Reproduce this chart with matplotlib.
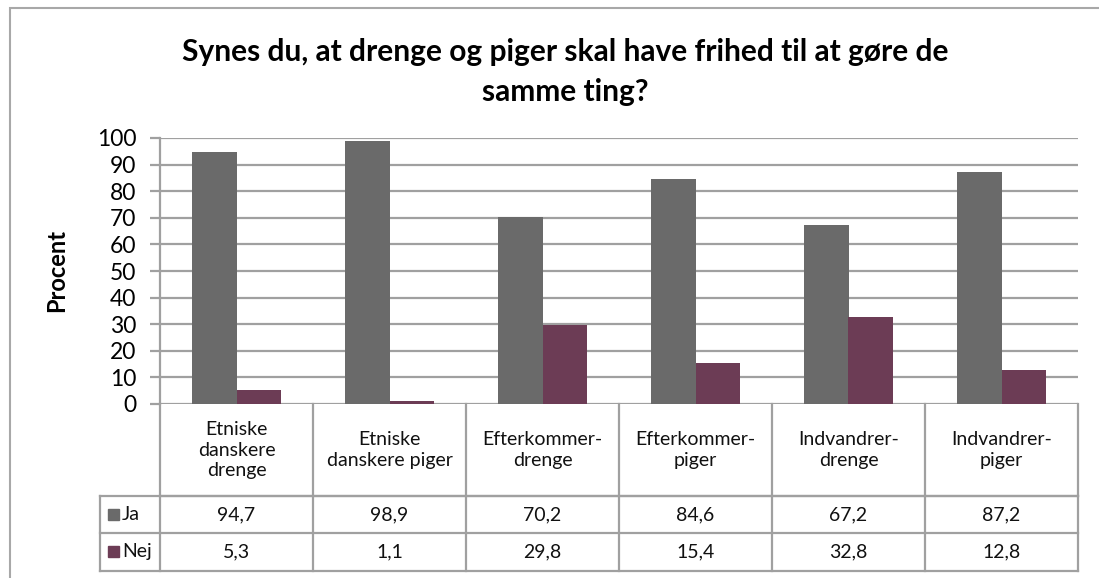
import matplotlib
matplotlib.use("Agg")
import matplotlib.pyplot as plt
import matplotlib.transforms as mtrans
from matplotlib.patches import Rectangle
import numpy as np

plt.rcParams['font.family'] = ['Lato', 'DejaVu Sans']

categories = ["Etniske\ndanskere\ndrenge", "Etniske\ndanskere piger", "Efterkommer-\ndrenge",
              "Efterkommer-\npiger", "Indvandrer-\ndrenge", "Indvandrer-\npiger"]
ja = [94.7, 98.9, 70.2, 84.6, 67.2, 87.2]
nej = [5.3, 1.1, 29.8, 15.4, 32.8, 12.8]
series_names = ["Ja", "Nej"]
colors = ["#6a6a6a", "#6c3c55"]
grid_col = "#a0a0a0"

W, H = 1099, 578
fig = plt.figure(figsize=(W / 100, H / 100), dpi=100)

# outer chart frame (runs off right/bottom)
fig.patches.append(Rectangle((10 / W, -0.1), 1.2, 1 - 8 / H + 0.1, transform=fig.transFigure,
                             fill=False, edgecolor="#a8a8a8", lw=1.5))

x0, x1, ytop, ybot = 160, 1078, 138, 404
ax = fig.add_axes([x0 / W, 1 - ybot / H, (x1 - x0) / W, (ybot - ytop) / H])

x = np.arange(len(categories))
bw = 0.29
ax.bar(x - bw / 2, ja, bw, color=colors[0], zorder=3)
ax.bar(x + bw / 2, nej, bw, color=colors[1], zorder=3)

ax.set_xlim(-0.5, len(categories) - 0.5)
ax.set_ylim(0, 100)
ax.set_yticks(range(0, 101, 10))
ax.set_xticks([])
ax.yaxis.grid(True, color=grid_col, lw=1.6, zorder=0)
for s in ["top", "right", "bottom"]:
    ax.spines[s].set_visible(False)
ax.spines["left"].set_color(grid_col)
ax.spines["left"].set_linewidth(1.6)
ax.tick_params(axis="y", length=7, width=1.6, color=grid_col, labelsize=16.5, pad=10)
ax.set_ylabel("Procent", fontsize=17, fontweight="bold")
ax.yaxis.set_label_coords(-(x0 - 68) / (x1 - x0), 0.5)

# data table below the axis
tr = mtrans.blended_transform_factory(ax.transData, ax.transAxes)
ppx = (x1 - x0) / len(categories)
leg_left = -0.5 - 60 / ppx
ah = ybot - ytop
r1 = -(496 - ybot) / ah
r2 = -(533 - ybot) / ah
r3 = -(571 - ybot) / ah
lk = dict(color=grid_col, lw=1.6, transform=tr, clip_on=False, solid_capstyle="projecting")

for b in np.arange(len(categories) + 1) - 0.5:
    ax.plot([b, b], [0, r3], **lk)
ax.plot([leg_left, leg_left], [r1, r3], **lk)
ax.plot([-0.5, len(categories) - 0.5], [r1, r1], **lk)
for ry in (r1, r2, r3):
    ax.plot([leg_left, len(categories) - 0.5], [ry, ry], **lk)

fs = 14
for i, c in enumerate(categories):
    ax.text(x[i], (0 + r1) / 2, c, transform=tr, ha="center", va="center",
            fontsize=fs, linespacing=1.25, color="#111111")
    ax.text(x[i], (r1 + r2) / 2, f"{ja[i]:.1f}".replace(".", ","), transform=tr,
            ha="center", va="center", fontsize=fs, color="#111111")
    ax.text(x[i], (r2 + r3) / 2, f"{nej[i]:.1f}".replace(".", ","), transform=tr,
            ha="center", va="center", fontsize=fs, color="#111111")

for k, (ry_a, ry_b) in enumerate([(r1, r2), (r2, r3)]):
    yc = (ry_a + ry_b) / 2
    ax.add_patch(Rectangle((leg_left + 8 / ppx, yc - 5 / ah), 11 / ppx, 11 / ah, transform=tr,
                           color=colors[k], clip_on=False))
    ax.text(leg_left + 22 / ppx, yc, series_names[k], transform=tr, ha="left", va="center",
            fontsize=fs, color="#111111")

fig.text(565 / W, 1 - 72 / H, "Synes du, at drenge og piger skal have frihed til at gøre de\nsamme ting?",
         ha="center", va="center", fontsize=21.5, fontweight="bold", linespacing=1.5)

fig.savefig("out.png", dpi=100)
